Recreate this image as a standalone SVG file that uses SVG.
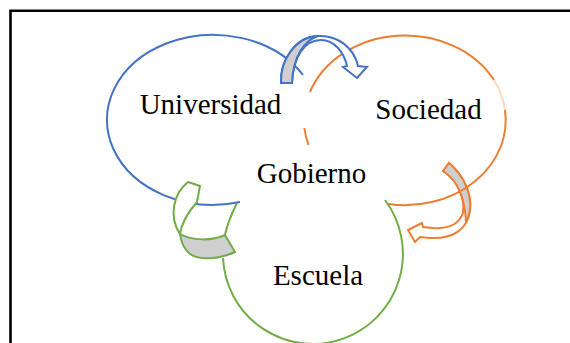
<svg xmlns="http://www.w3.org/2000/svg" width="570" height="343" viewBox="0 0 570 343">
<style>
.lbl{font-family:"Liberation Serif","Times New Roman",serif;font-size:29px;fill:#000;text-anchor:middle}
.b{stroke:#4472C4}
.o{stroke:#ED7D31}
.g{stroke:#70AD47}
.ln{fill:none;stroke-width:2}
.arw{fill:#fff;stroke-width:2;stroke-linejoin:miter}
.gr{fill:#CFCFCF;stroke-width:2}
</style>
<rect width="570" height="343" fill="#fff"/>
<path d="M10.5,343 V10.8 H570" fill="none" stroke="#000" stroke-width="2.6"/>

<g id="connectors">
  <g id="arrow-sociedad-escuela">
    <path class="arw o" d="M443,171 L449,163 C462,174 472,192 470,210 C468,230 452,239 430,238 L420,237 L415,242 L408,230 L422,223 L423,227 L433,228 C448,229 459,224 463,213 C465,198 458,180 443,171 Z"/>
    <path class="gr o" d="M443,171 L449,163 C462,174 472,192 470,210 C469,215 468,219 466,222 C465,200 459,181 443,171 Z"/>
  </g>
</g>

<g id="node-sociedad">
  <path class="ln o" d="M310,92 A101,85 0 0 1 494,80"/>
  <path class="ln o" d="M494,80 A101,85 0 0 1 505,110" stroke-opacity="0.3"/>
  <path class="ln o" d="M505,110 A101,85 0 0 1 388,204"/>
  <path class="ln o" d="M304.4,128 A101,85 0 0 0 308.5,145"/>
  <text class="lbl" x="428.5" y="119">Sociedad</text>
</g>

<g id="node-universidad">
  <path class="ln b" d="M303,75 A106,85 0 1 0 240,202"/>
  <text class="lbl" x="210.5" y="114">Universidad</text>
</g>

<g id="connectors2">
  <g id="arrow-universidad-sociedad">
    <path class="arw b" d="M281,83 C280,60 296,36 318,36 C338,35 354,48 358,66 L367,67 L357,78 L343,67 L347,66 C344,52 334,40 321,40 C305,40 293,56 292,83 Z"/>
    <path class="gr b" d="M281,83 C280,60 296,37 318,36 C305,40 293,56 292,83 Z"/>
  </g>
</g>

<g id="node-escuela">
  <path class="ln g" d="M385,200 A90,90 0 1 1 223,258"/>
  <text class="lbl" x="318" y="285">Escuela</text>
</g>

<g id="connectors3">
  <g id="arrow-escuela-universidad">
    <path class="arw g" d="M188,182 L200,186 L197,202 C190,210 182,221 180,234 C168,216 174,193 188,182 Z"/>
    <path class="gr g" d="M180,234 C192,241 212,241 225,235 L235,252 C220,259 200,261 190,254 C184,249 181,242 180,234 Z"/>
    <path class="ln g" d="M237,203 C232,213 227,225 225,235"/>
  </g>
</g>

<g id="node-gobierno">
  <text class="lbl" x="311.5" y="183">Gobierno</text>
</g>
</svg>
